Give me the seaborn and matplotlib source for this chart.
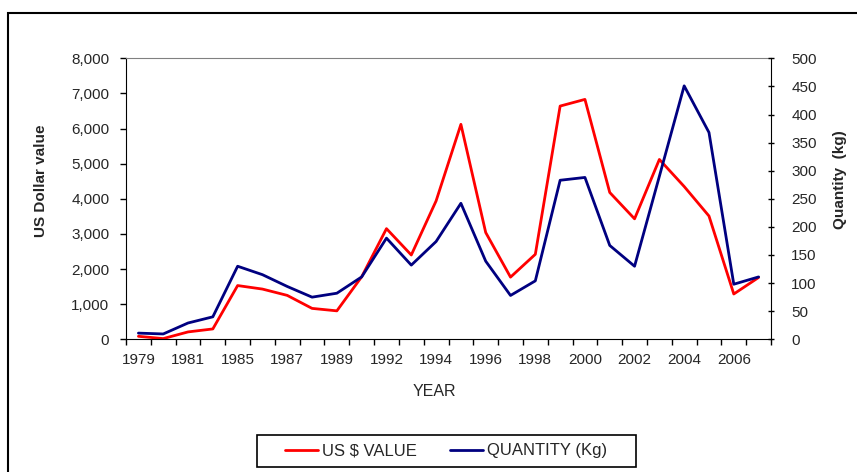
import numpy as np
import pandas as pd
import matplotlib
matplotlib.use("Agg")
import matplotlib.pyplot as plt
from matplotlib.patches import Rectangle
from matplotlib.ticker import FixedLocator, FuncFormatter, MultipleLocator
import seaborn as sns

# Data
years = ["1979", "1980", "1981", "1983", "1985", "1986", "1987", "1988", "1989",
         "1990", "1992", "1993", "1994", "1995", "1996", "1997", "1998", "1999",
         "2000", "2001", "2002", "2003", "2004", "2005", "2006", "2007"]
usd_value = [85, 20, 210, 295, 1530, 1430, 1250, 880, 810, 1780, 3150, 2400,
             3940, 6120, 3040, 1770, 2420, 6640, 6830, 4180, 3430, 5120, 4350,
             3510, 1290, 1760]
quantity_kg = [11, 9.5, 29, 40, 130, 115, 94, 75, 82, 111, 180, 132, 174, 242,
               139, 78, 104, 283, 288, 167, 130, 290, 451, 368, 98, 111]
shown_years = years[0:25:2]

df = pd.DataFrame({"year": years, "usd": usd_value, "qty": quantity_kg})

sns.set_style("ticks")
plt.rcParams["font.family"] = ["Liberation Sans", "DejaVu Sans"]

fig = plt.figure(figsize=(8.57, 4.72), dpi=100)
ax = fig.add_axes([126 / 857, 1 - 339.3 / 472, (771 - 126) / 857, (339.3 - 58.3) / 472])
ax2 = ax.twinx()

sns.lineplot(data=df, x="year", y="usd", ax=ax, color="#ff0000", lw=2,
             label="US $ VALUE", legend=False)
sns.lineplot(data=df, x="year", y="qty", ax=ax2, color="#000080", lw=2,
             label="QUANTITY (Kg)", legend=False)

# x axis: tick marks between categories, labels on every other category
ax.set_xlim(-0.5, len(years) - 0.5)
ax.xaxis.set_major_locator(FixedLocator(np.arange(0, 25, 2)))
ax.set_xticklabels(shown_years)
ax.xaxis.set_minor_locator(FixedLocator(np.arange(-0.5, len(years), 1)))
ax.tick_params(axis="x", which="major", length=0, pad=10, labelsize=11)
ax.tick_params(axis="x", which="minor", length=4, width=1, direction="out", color="black")

ax.set_ylim(0, 8000)
ax.yaxis.set_major_locator(MultipleLocator(1000))
ax.yaxis.set_major_formatter(FuncFormatter(lambda v, p: f"{int(v):,}"))
ax.tick_params(axis="y", length=4, width=1, direction="out", pad=8, labelsize=11, color="black")

ax2.set_ylim(0, 500)
ax2.yaxis.set_major_locator(MultipleLocator(50))
ax2.tick_params(axis="y", length=5, width=1, direction="inout", pad=12, labelsize=11, color="black")

ax.set_xlabel("YEAR", fontsize=11.5)
ax.set_ylabel("US Dollar value", fontsize=11, fontweight="bold")
ax2.set_ylabel("Quantity  (kg)", fontsize=11, fontweight="bold")
ax.xaxis.set_label_coords(0.4775, -0.159)
ax.yaxis.set_label_coords(-0.121, 0.565)
ax2.yaxis.set_label_coords(1.096, 0.57)

for name in ["left", "bottom", "right"]:
    ax.spines[name].set_color("black")
    ax2.spines[name].set_color("black")
ax.spines["top"].set_color("#808080")
ax2.spines["top"].set_visible(False)
ax2.spines["left"].set_visible(False)
ax2.spines["bottom"].set_visible(False)
ax.spines["right"].set_visible(False)

# legend below the chart in its own box
h1, l1 = ax.get_legend_handles_labels()
h2, l2 = ax2.get_legend_handles_labels()
fig.legend(h1 + h2, l1 + l2, loc="center", bbox_to_anchor=(446 / 857, 1 - 451 / 472),
           ncol=2, frameon=False, fontsize=12, handlelength=2.0, handletextpad=0.2,
           columnspacing=2.0)
fig.patches.append(Rectangle((257 / 857, 1 - 467 / 472), (636 - 257) / 857, 32 / 472,
                             transform=fig.transFigure, fill=False, edgecolor="black", lw=1.2))

# outer chart frame (cut off at the right and bottom edges)
fig.patches.append(Rectangle((8 / 857, -0.1), 1.2, 1 - 13 / 472 + 0.1,
                             transform=fig.transFigure, fill=False, edgecolor="black", lw=1.5))

fig.savefig("out.png", dpi=100)
